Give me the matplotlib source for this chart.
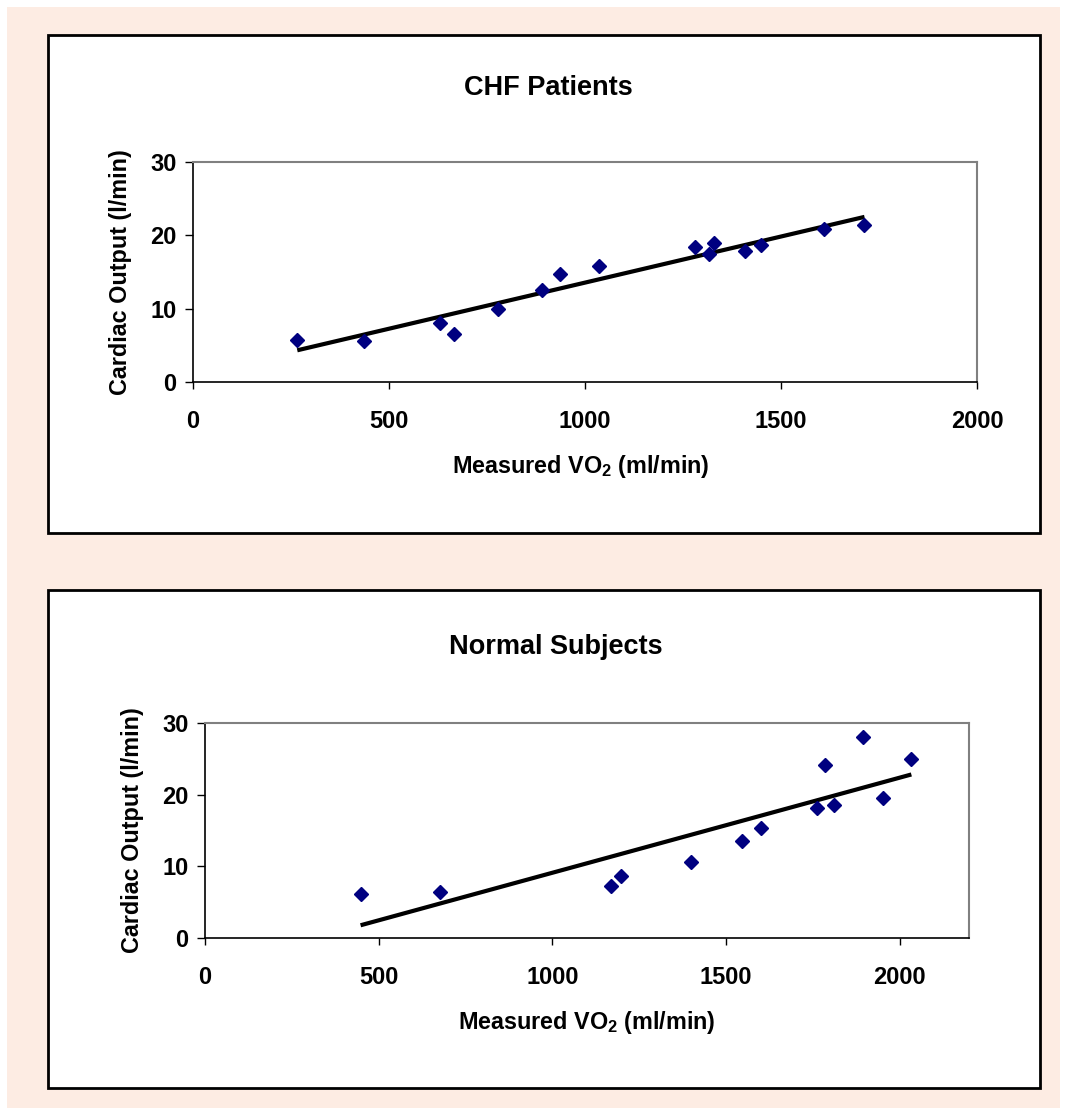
import matplotlib
matplotlib.use("Agg")
import matplotlib.pyplot as plt
import numpy as np
from matplotlib.patches import Rectangle

plt.rcParams['font.family'] = ['Liberation Sans', 'DejaVu Sans']
plt.rcParams['mathtext.fontset'] = 'custom'
plt.rcParams['mathtext.rm'] = 'Liberation Sans'
plt.rcParams['mathtext.bf'] = 'Liberation Sans:bold'

# CHF patients
chf_vo2 = [266, 435, 629, 666, 777, 890, 936, 1036, 1281, 1317, 1329, 1408, 1449, 1610, 1713]
chf_co = [5.7, 5.6, 8.1, 6.5, 10.0, 12.5, 14.7, 15.8, 18.4, 17.5, 19.0, 17.8, 18.7, 20.9, 21.4]

# normal subjects
norm_vo2 = [448, 677, 1170, 1198, 1400, 1545, 1601, 1762, 1786, 1810, 1895, 1953, 2034]
norm_co = [6.2, 6.4, 7.3, 8.7, 10.6, 13.5, 15.4, 18.2, 24.2, 18.5, 28.0, 19.6, 25.0]

W, H = 1067, 1108
fig = plt.figure(figsize=(W / 100, H / 100), dpi=100)
fig.patch.set_facecolor('white')


def px_rect(x0, y0, x1, y1, **kw):
    # pixel box (y from top) -> figure coords
    r = Rectangle((x0 / W, 1 - y1 / H), (x1 - x0) / W, (y1 - y0) / H,
                  transform=fig.transFigure, **kw)
    fig.patches.append(r)


px_rect(7, 7, 1060, 1108, facecolor='#fdece3', edgecolor='none', zorder=-2)
px_rect(48, 35, 1040, 533, facecolor='white', edgecolor='black', lw=2, zorder=-1)
px_rect(48, 590, 1040, 1088, facecolor='white', edgecolor='black', lw=2, zorder=-1)


def panel(left, right, top, bottom, xmax, xs, ys, title, title_xy, note, note_xy,
          ylab_x, xlab_xy):
    ax = fig.add_axes([left / W, 1 - bottom / H, (right - left) / W, (bottom - top) / H])
    ax.set_zorder(5)
    ax.set_facecolor('white')
    ax.plot(xs, ys, linestyle='none', marker='D', ms=7, color='#000080', zorder=3)
    k, b = np.polyfit(xs, ys, 1)
    xx = np.array([min(xs), max(xs)])
    ax.plot(xx, k * xx + b, color='black', lw=3, solid_capstyle='butt', zorder=2)
    ax.set_xlim(0, xmax)
    ax.set_ylim(0, 30)
    ax.set_xticks([0, 500, 1000, 1500, 2000])
    ax.set_yticks([0, 10, 20, 30])
    for s in ['top', 'right']:
        ax.spines[s].set_color('#808080')
        ax.spines[s].set_linewidth(1.5)
    for s in ['left', 'bottom']:
        ax.spines[s].set_color('black')
        ax.spines[s].set_linewidth(1.2)
    ax.tick_params(axis='x', direction='out', length=5, width=1, pad=15, labelsize=17)
    ax.tick_params(axis='y', direction='out', length=6, width=1, pad=6, labelsize=17)
    for lab in ax.get_xticklabels() + ax.get_yticklabels():
        lab.set_fontweight('bold')
    fig.text(title_xy[0] / W, 1 - title_xy[1] / H, title, ha='center', va='center',
             fontsize=19.5, fontweight='bold')
    fig.text(note_xy[0] / W, 1 - note_xy[1] / H, note, ha='left', va='center', fontsize=16.8)
    fig.text(ylab_x / W, 1 - (top + bottom) / 2 / H, 'Cardiac Output (l/min)',
             rotation=90, ha='center', va='center', fontsize=16.8, fontweight='bold')
    fig.text(xlab_xy[0] / W, 1 - xlab_xy[1] / H, r'Measured VO$_\mathbf{2}$ (ml/min)',
             ha='center', va='center', fontsize=16.8, fontweight='bold')
    return ax


panel(193, 977, 162, 382, 2000, chf_vo2, chf_co, 'CHF Patients', (548, 88),
      'r = 0.81   p<0.001', (248, 202), 120, (581, 467))
panel(205, 969, 723, 938, 2200, norm_vo2, norm_co, 'Normal Subjects', (556, 647),
      'r = 0.78   p<0.001', (262, 762), 132, (587, 1022))

fig.savefig('out.png', dpi=100)
